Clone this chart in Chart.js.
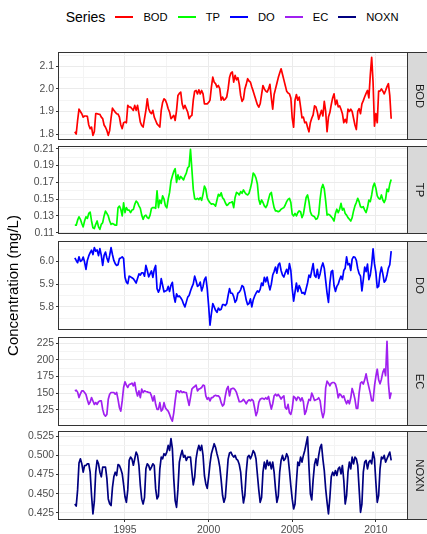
<!DOCTYPE html>
<html><head><meta charset="utf-8">
<script src="https://cdn.jsdelivr.net/npm/chart.js@4"></script>
<style>
html,body{margin:0;padding:0;background:#fff;width:427px;height:534px;overflow:hidden;}
#wrap{position:relative;width:427px;height:534px;}
canvas{position:absolute;left:0;top:0;}
#legend{position:absolute;left:65.7px;top:7px;height:20px;display:flex;align-items:center;font-family:"Liberation Sans",Arial,sans-serif;color:#000;white-space:nowrap;}
#legend .ttl{font-size:14px;margin-right:10px;}
#legend .key{width:18px;height:1.6px;margin-right:10px;}
#legend .lab{font-size:11.2px;margin-right:10px;}
</style></head>
<body><div id="wrap"><div id="legend"></div></div>
<script>
// ---------------- data ----------------
const startYear = 1992;               // first month: Jan 1992, monthly observations
const seriesNames = ['BOD', 'TP', 'DO', 'EC', 'NOXN'];
const seriesColors = ['#FF0000', '#00FF00', '#0000FF', '#A020F0', '#000080'];
const legendTitle = 'Series';
const yAxisTitle = 'Concentration (mg/L)';
const xTickLabels = [1995, 2000, 2005, 2010];
const bodTicks = [1.8, 1.9, 2.0, 2.1];
const tpTicks = [0.11, 0.13, 0.15, 0.17, 0.19, 0.21];
const doTicks = [5.8, 5.9, 6.0];
const ecTicks = [125, 150, 175, 200, 225];
const noxnTicks = [0.425, 0.450, 0.475, 0.500, 0.525];

const bodValues = [
1.81,1.80,1.86,1.91,1.90,1.89,1.875,1.88,1.88,1.878,1.84,1.824,
1.831,1.794,1.81,1.89,1.89,1.888,1.887,1.875,1.868,1.84,1.83,1.816,
1.794,1.816,1.87,1.915,1.905,1.897,1.89,1.888,1.875,1.84,1.824,1.85,
1.853,1.85,1.927,1.92,1.919,1.912,1.905,1.927,1.905,1.927,1.89,1.853,
1.838,1.831,1.868,1.905,1.956,1.912,1.897,1.89,1.905,1.875,1.86,1.845,
1.838,1.831,1.905,1.94,1.956,1.95,1.934,1.912,1.897,1.868,1.875,1.883,
1.86,1.905,1.971,1.98,1.986,1.934,1.912,1.927,1.912,1.897,1.868,1.878,
1.883,1.95,1.99,1.993,1.978,1.996,1.978,1.993,1.978,1.934,1.934,1.934,
1.94,1.95,2.008,2.052,2.03,2.023,2.008,2.015,2.001,1.95,1.964,1.95,
1.955,1.964,2.0,2.05,2.07,2.075,2.03,2.06,2.04,2.05,2.02,1.97,
1.945,1.955,2.0,2.02,2.045,2.035,2.03,2.008,1.99,1.97,1.95,1.93,
1.919,1.934,1.975,2.015,2.0,1.99,1.986,2.0,2.02,1.96,1.91,1.975,
2.0,2.025,2.05,2.07,2.089,2.065,2.04,2.015,1.99,1.982,1.978,1.96,
1.87,1.83,1.95,1.975,1.95,1.964,1.919,1.872,1.875,1.85,1.853,1.83,
1.81,1.85,1.87,1.885,1.925,1.92,1.898,1.865,1.885,1.905,1.88,1.945,
1.90,1.81,1.875,1.895,1.93,1.96,1.978,1.93,1.95,1.92,1.925,1.91,
1.89,1.85,1.865,1.85,1.91,1.90,1.91,1.90,1.87,1.84,1.82,1.90,
1.912,1.89,1.934,1.948,1.965,1.98,1.993,1.96,2.06,2.14,2.03,1.835,
1.89,1.85,1.99,1.99,2.0,1.99,1.978,1.993,2.01,2.023,1.97,1.868
];
const tpValues = [
0.119,0.119,0.125,0.129,0.126,0.121,0.117,0.124,0.129,0.127,0.133,0.1346,
0.124,0.116,0.115,0.12,0.124,0.117,0.114,0.12,0.122,0.13,0.1358,0.133,
0.13,0.124,0.12,0.121,0.12,0.119,0.119,0.1398,0.1417,0.138,0.13,0.1457,
0.134,0.14,0.137,0.137,0.134,0.137,0.1378,0.1437,0.1477,0.146,0.142,0.139,
0.131,0.126,0.13,0.131,0.128,0.127,0.131,0.139,0.14,0.14,0.139,0.16,
0.14,0.149,0.145,0.154,0.15,0.142,0.1397,0.15,0.158,0.1715,0.1775,0.183,
0.1862,0.17,0.179,0.1735,0.177,0.175,0.173,0.1775,0.181,0.1874,0.189,0.2092,
0.1854,0.1616,0.1505,0.1497,0.151,0.1495,0.1517,0.1485,0.156,0.1656,0.162,0.1517,
0.148,0.1457,0.144,0.1445,0.1437,0.1417,0.149,0.1557,0.1537,0.1576,0.1517,0.1497,
0.1457,0.1425,0.1437,0.1457,0.146,0.147,0.140,0.152,0.158,0.157,0.155,0.159,
0.157,0.161,0.158,0.156,0.155,0.157,0.163,0.17,0.181,0.179,0.175,0.168,
0.15,0.144,0.149,0.146,0.142,0.140,0.143,0.150,0.156,0.158,0.148,0.14,
0.136,0.136,0.135,0.136,0.138,0.139,0.14,0.143,0.147,0.1497,0.151,0.146,
0.132,0.13,0.133,0.13,0.134,0.136,0.135,0.128,0.132,0.142,0.152,0.155,
0.147,0.135,0.131,0.13,0.129,0.126,0.127,0.132,0.15,0.163,0.1675,0.162,
0.148,0.131,0.132,0.131,0.129,0.127,0.124,0.133,0.138,0.134,0.138,0.145,
0.137,0.139,0.133,0.131,0.128,0.126,0.124,0.128,0.136,0.142,0.146,0.151,
0.147,0.141,0.14,0.141,0.137,0.134,0.14,0.149,0.147,0.155,0.165,0.169,
0.163,0.154,0.151,0.15,0.155,0.149,0.146,0.15,0.162,0.159,0.168,0.1735
];
const doValues = [
6.015,6.004,5.994,6.02,6.0,6.004,6.019,5.997,5.965,6.004,6.024,6.038,
6.049,6.03,6.06,6.045,6.05,6.025,6.056,6.026,5.982,6.026,6.041,6.015,
5.997,6.026,6.06,6.03,6.004,5.99,5.982,5.985,6.012,6.015,6.02,6.012,
5.93,5.909,5.902,5.935,5.932,5.928,5.924,5.915,5.905,5.925,5.945,5.94,
5.95,5.95,5.935,5.982,5.96,5.932,5.945,5.958,5.93,5.965,5.982,5.88,
5.865,5.879,5.924,5.895,5.866,5.87,5.872,5.89,5.868,5.895,5.908,5.85,
5.821,5.857,5.845,5.848,5.84,5.83,5.813,5.8,5.821,5.843,5.85,5.87,
5.887,5.901,5.935,5.915,5.89,5.895,5.909,5.87,5.89,5.92,5.931,5.88,
5.806,5.72,5.77,5.815,5.8,5.785,5.776,5.795,5.786,5.79,5.81,5.81,
5.806,5.815,5.85,5.88,5.86,5.86,5.845,5.82,5.83,5.86,5.865,5.875,
5.894,5.888,5.862,5.83,5.81,5.815,5.835,5.80,5.83,5.847,5.86,5.87,
5.865,5.877,5.905,5.894,5.93,5.91,5.931,5.9,5.875,5.90,5.94,5.955,
5.975,5.948,5.985,5.992,5.96,5.94,5.931,5.95,5.965,5.945,5.99,5.96,
5.88,5.825,5.865,5.905,5.867,5.894,5.879,5.86,5.863,5.855,5.88,5.905,
5.94,5.93,5.96,5.99,5.938,5.93,5.965,5.925,5.945,5.975,5.993,5.97,
5.915,5.86,5.82,5.905,5.955,5.96,5.894,5.868,5.89,5.9,5.92,5.935,
5.92,5.96,5.97,6.02,5.985,5.99,5.96,6.01,6.02,6.018,6.004,5.968,
5.946,5.935,5.87,5.92,5.975,5.955,5.988,5.92,5.94,5.985,6.055,5.99,
5.953,5.885,5.89,5.945,5.975,5.945,5.909,5.916,5.94,5.97,5.985,6.045
];
const ecValues = [
153.4,154.4,151.5,143.3,149,153.4,153.4,151,148,140,133.1,136.7,
143.3,138.2,133.1,135.7,133.1,137,138.2,138.2,125.5,117.9,115.4,117.9,
140.7,148.4,150.9,150.9,150.9,148.4,150.9,140.7,128,123,138.2,158.5,
167.1,162,158.5,163,163.6,165.1,161,166.1,153.4,145.8,153.4,143.3,
156,150.9,153.4,152.5,151.9,150.9,150.9,145.8,138.2,145.8,133.1,125.5,
125.5,135.7,123,125.5,135.7,128,125,123,117.9,112,107.7,120.4,
138.2,153.4,153.4,150.9,153.4,150.9,151.9,150.9,150.9,140.7,131.6,143.3,
156,158.5,160,162,153.4,156,157,158.5,162.1,161,145.8,140.7,
143.3,138.2,143.3,143.3,145.8,146.8,145.8,145.8,143.3,135.7,130.6,133.1,
145.8,156,160,145.8,156,157,157,155,151,144,137,137,
138.2,140.7,137.5,134,138,140,138.2,140.7,138.5,128,116,122,
136,140.7,142,142,140.7,143,141,145,135,126,134,146,
148.4,145.8,148,145,141,144,145.8,128,126,133,120.4,118,
127,145,143.3,139,144,143,138.2,143,137,118,123,133,
140.7,139,150,145,139,140,140.7,143,138.5,123,113,121,
158,168,165,161,165,166,166,163.6,156,143,149,147,
143.3,145.8,139,134,139,134,143,157,150,140.7,127,127,
150,165,167,163.6,170,179,168,159,150,138.5,138.2,160,
175,186,170,164,171,181.3,186.4,176.3,228,165,142,151
];
const noxnValues = [
0.4367,0.434,0.455,0.49,0.4954,0.489,0.478,0.4867,0.4867,0.4889,0.4889,0.478,
0.448,0.4237,0.44,0.478,0.4933,0.4889,0.478,0.472,0.4846,0.4846,0.4846,0.47,
0.4433,0.437,0.4346,0.458,0.472,0.478,0.4737,0.488,0.4867,0.482,0.476,0.462,
0.446,0.4389,0.455,0.4933,0.4976,0.495,0.487,0.4954,0.5041,0.5,0.4867,0.4607,
0.443,0.4367,0.445,0.4824,0.4889,0.4867,0.481,0.4846,0.4889,0.4867,0.4563,0.4433,
0.447,0.4824,0.4976,0.4954,0.502,0.4998,0.5041,0.5128,0.5063,0.5215,0.5085,0.4693,
0.4411,0.4324,0.456,0.4911,0.4998,0.5063,0.4976,0.4998,0.4933,0.4976,0.4976,0.4976,
0.478,0.4614,0.4715,0.4954,0.5063,0.5128,0.5063,0.5128,0.5,0.4737,0.4628,0.457,
0.4715,0.489,0.502,0.5085,0.515,0.51,0.502,0.495,0.485,0.468,0.448,0.439,
0.445,0.47,0.495,0.503,0.504,0.50,0.4976,0.4998,0.495,0.4933,0.488,0.478,
0.455,0.438,0.448,0.478,0.4976,0.4998,0.4954,0.4998,0.506,0.503,0.4954,0.475,
0.455,0.4389,0.445,0.478,0.4911,0.4824,0.4933,0.4867,0.4911,0.4824,0.4911,0.478,
0.456,0.4389,0.447,0.478,0.4933,0.4998,0.4933,0.4954,0.502,0.4976,0.48,0.46,
0.443,0.4302,0.4367,0.465,0.4911,0.4867,0.4976,0.4911,0.4998,0.5063,0.515,0.524,
0.485,0.45,0.442,0.468,0.488,0.4954,0.4867,0.4998,0.51,0.514,0.495,0.48,
0.4563,0.4389,0.4237,0.445,0.472,0.478,0.4737,0.4802,0.4737,0.4824,0.4846,0.4759,
0.4867,0.4672,0.4367,0.4476,0.478,0.4911,0.4824,0.4976,0.4889,0.4976,0.4954,0.4867,
0.4563,0.4259,0.4367,0.478,0.4911,0.4933,0.4824,0.4911,0.4933,0.4889,0.5041,0.4954,
0.465,0.4389,0.4476,0.4824,0.4976,0.4954,0.4998,0.4911,0.4954,0.4998,0.5041,0.4933
];

// ---------------- layout (not data) ----------------
const W = 427, H = 534;
const plotLeft = 59;
const panels = [
  {values: bodValues,  ticks: bodTicks,  dec: 1, top: 53,  bottom: 139, min: 1.778, max: 2.159},
  {values: tpValues,   ticks: tpTicks,   dec: 2, top: 147, bottom: 233, min: 0.1097, max: 0.2121},
  {values: doValues,   ticks: doTicks,   dec: 1, top: 242, bottom: 329, min: 5.703, max: 6.085},
  {values: ecValues,   ticks: ecTicks,   dec: 0, top: 338, bottom: 425, min: 102, max: 233},
  {values: noxnValues, ticks: noxnTicks, dec: 3, top: 432, bottom: 519, min: 0.4172, max: 0.5302}
];
const FONT = '"Liberation Sans", Arial, Helvetica, sans-serif';
Chart.defaults.font.family = FONT;

// legend (HTML)
const leg = document.getElementById('legend');
const t = document.createElement('span'); t.className = 'ttl'; t.textContent = legendTitle; leg.appendChild(t);
seriesNames.forEach((n, k) => {
  const key = document.createElement('span'); key.className = 'key'; key.style.background = seriesColors[k]; leg.appendChild(key);
  const lab = document.createElement('span'); lab.className = 'lab'; lab.textContent = n; leg.appendChild(lab);
});

const nPts = bodValues.length;
const xFirst = startYear, xLast = startYear + (nPts - 1) / 12;
const xSpan = xLast - xFirst;
const xMin = xFirst - 0.05 * xSpan, xMax = xLast + 0.05 * xSpan;

function withMinors(majors, lo, hi) {
  const step = majors[1] - majors[0];
  const all = [];
  for (let v = majors[0] - step / 2; v >= lo; v -= step / 2) all.unshift({v, major: false});
  majors.forEach((m) => {
    all.push({v: m, major: true});
    const mid = m + step / 2;
    if (mid <= hi) all.push({v: mid, major: false});
  });
  return all.filter(o => o.v >= lo - 1e-9 && o.v <= hi + 1e-9);
}
function isMajorOf(majors, v) {
  return majors.some(m => Math.abs(m - v) < 1e-7);
}

const decor = {
  id: 'decor',
  afterDatasetsDraw(chart, args, opts) {
    const {ctx, chartArea: a} = chart;
    ctx.save();
    ctx.strokeStyle = '#333333';
    ctx.lineWidth = 1;
    ctx.strokeRect(a.left - 0.5, a.top - 0.5, a.right - a.left + 1, a.bottom - a.top + 1);
    ctx.fillStyle = '#D9D9D9';
    ctx.fillRect(a.right + 0.5, a.top - 0.5, 40, a.bottom - a.top + 1);
    ctx.strokeRect(a.right + 0.5, a.top - 0.5, 40, a.bottom - a.top + 1);
    ctx.fillStyle = '#1A1A1A';
    ctx.font = '11.2px ' + FONT;
    ctx.translate(a.right + 12, (a.top + a.bottom) / 2);
    ctx.rotate(Math.PI / 2);
    ctx.textAlign = 'center';
    ctx.textBaseline = 'middle';
    ctx.fillText(opts.label, 0, 0);
    ctx.restore();
  }
};

const xMinorTicks = withMinors(xTickLabels, xMin, xMax);

panels.forEach((p, k) => {
  const cv = document.createElement('canvas');
  cv.width = W; cv.height = H;
  document.getElementById('wrap').appendChild(cv);
  const isLast = k === panels.length - 1;
  const yT = withMinors(p.ticks, p.min, p.max);
  const gridColor = (majors) => (c) => (c.tick && isMajorOf(majors, c.tick.value)) ? '#EBEBEB' : '#F4F4F4';
  new Chart(cv, {
    type: 'line',
    data: {
      datasets: [{
        label: seriesNames[k],
        data: p.values.map((v, i) => ({x: startYear + i / 12, y: v})),
        borderColor: seriesColors[k],
        borderWidth: 1.7,
        pointRadius: 0,
        tension: 0,
        borderJoinStyle: 'round',
        fill: false
      }]
    },
    options: {
      responsive: false,
      animation: false,
      devicePixelRatio: 1,
      events: [],
      layout: {padding: {top: p.top, left: 0, right: W - 407, bottom: 0}},
      plugins: {legend: {display: false}, tooltip: {enabled: false}, decor: {label: seriesNames[k]}},
      scales: {
        x: {
          type: 'linear', min: xMin, max: xMax,
          afterBuildTicks: (s) => { s.ticks = xMinorTicks.map(o => ({value: o.v})); },
          afterFit: (s) => { s.height = H - p.bottom; },
          border: {display: false},
          grid: {
            color: gridColor(xTickLabels),
            lineWidth: 1,
            drawTicks: isLast,
            tickLength: 3,
            tickColor: (c) => (c.tick && isMajorOf(xTickLabels, c.tick.value)) ? '#333333' : 'rgba(0,0,0,0)'
          },
          ticks: {
            display: isLast,
            autoSkip: false,
            maxRotation: 0,
            padding: 2,
            color: '#4D4D4D',
            font: {size: 10.4},
            callback: (v) => isMajorOf(xTickLabels, v) ? String(Math.round(v)) : ''
          }
        },
        y: {
          type: 'linear', min: p.min, max: p.max,
          afterBuildTicks: (s) => { s.ticks = yT.map(o => ({value: o.v})); },
          afterFit: (s) => { s.width = plotLeft; },
          border: {display: false},
          grid: {
            color: gridColor(p.ticks),
            lineWidth: 1,
            drawTicks: true,
            tickLength: 3,
            tickColor: (c) => (c.tick && isMajorOf(p.ticks, c.tick.value)) ? '#333333' : 'rgba(0,0,0,0)'
          },
          ticks: {
            autoSkip: false,
            padding: 2,
            color: '#4D4D4D',
            font: {size: 10.4},
            callback: (v) => isMajorOf(p.ticks, v) ? Number(v).toFixed(p.dec) : ''
          },
          title: {
            display: k === 2,
            text: yAxisTitle,
            color: '#000000',
            font: {size: 15},
            padding: {top: 5, bottom: 0}
          }
        }
      }
    },
    plugins: [decor]
  });
});
</script>
</body></html>
